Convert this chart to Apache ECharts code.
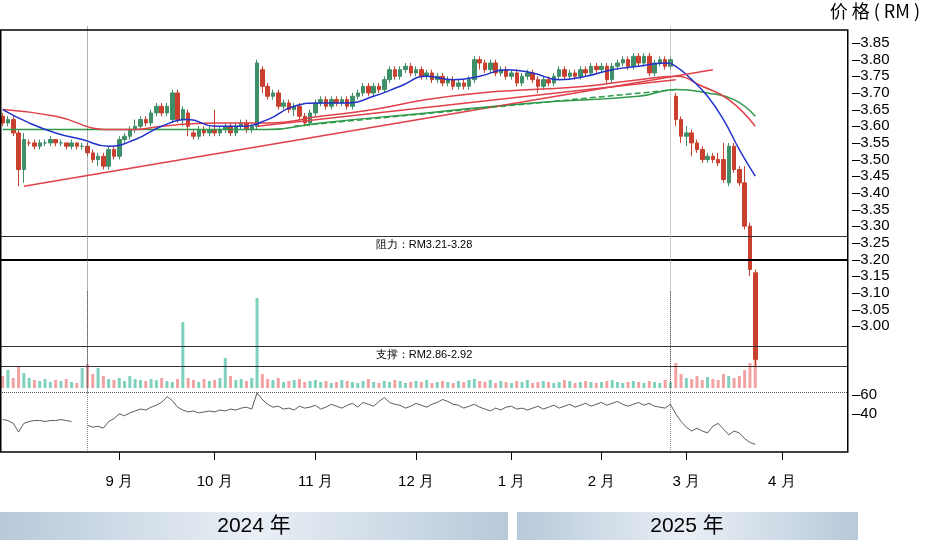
<!DOCTYPE html>
<html>
<head>
<meta charset="utf-8">
<script src="https://cdn.jsdelivr.net/npm/echarts@6/dist/echarts.min.js"></script>
<style>html,body{margin:0;padding:0;background:#fff}#main{width:926px;height:540px}</style>
</head>
<body>
<div id="main"></div>
<script>
// 日K线 [开, 收, 低, 高]
var candles = [
[3.63,3.61,3.60,3.64],[3.61,3.62,3.60,3.63],[3.62,3.58,3.57,3.63],[3.58,3.47,3.42,3.59],[3.47,3.56,3.43,3.58],
[3.55,3.55,3.54,3.56],[3.55,3.54,3.53,3.56],[3.54,3.55,3.53,3.56],[3.55,3.55,3.54,3.56],[3.55,3.56,3.54,3.57],
[3.56,3.55,3.54,3.56],[3.55,3.55,3.54,3.56],[3.55,3.54,3.53,3.55],[3.54,3.55,3.53,3.56],[3.55,3.54,3.53,3.55],
[3.54,3.54,3.53,3.55],[3.54,3.52,3.51,3.55],[3.52,3.50,3.49,3.53],[3.50,3.51,3.48,3.52],[3.51,3.48,3.47,3.52],
[3.48,3.53,3.47,3.54],[3.53,3.51,3.50,3.54],[3.51,3.56,3.50,3.57],[3.56,3.57,3.55,3.58],[3.57,3.59,3.56,3.60],
[3.59,3.60,3.58,3.62],[3.60,3.62,3.59,3.63],[3.62,3.61,3.60,3.63],[3.61,3.64,3.60,3.65],[3.64,3.66,3.63,3.67],
[3.66,3.64,3.63,3.67],[3.64,3.66,3.63,3.67],[3.62,3.70,3.61,3.71],[3.70,3.62,3.61,3.71],[3.62,3.65,3.60,3.66],
[3.64,3.60,3.57,3.65],[3.58,3.57,3.56,3.59],[3.57,3.59,3.56,3.60],[3.59,3.58,3.57,3.60],[3.58,3.59,3.57,3.60],
[3.59,3.58,3.57,3.65],[3.58,3.59,3.57,3.60],[3.59,3.60,3.58,3.61],[3.60,3.58,3.57,3.61],[3.58,3.60,3.57,3.61],
[3.60,3.61,3.59,3.62],[3.61,3.59,3.58,3.62],[3.59,3.60,3.58,3.61],[3.60,3.79,3.59,3.80],[3.77,3.72,3.70,3.78],
[3.72,3.69,3.68,3.73],[3.69,3.70,3.68,3.71],[3.70,3.66,3.65,3.71],[3.66,3.67,3.65,3.68],[3.67,3.65,3.64,3.68],
[3.65,3.66,3.63,3.67],[3.66,3.63,3.62,3.67],[3.63,3.61,3.60,3.64],[3.61,3.64,3.60,3.65],[3.64,3.67,3.63,3.68],
[3.67,3.68,3.66,3.69],[3.68,3.66,3.65,3.69],[3.66,3.68,3.65,3.69],[3.68,3.67,3.66,3.69],[3.67,3.68,3.66,3.69],
[3.68,3.66,3.65,3.69],[3.66,3.69,3.65,3.70],[3.69,3.70,3.68,3.71],[3.70,3.72,3.69,3.73],[3.72,3.70,3.69,3.73],
[3.70,3.72,3.69,3.73],[3.72,3.71,3.70,3.73],[3.71,3.74,3.70,3.75],[3.74,3.77,3.73,3.78],[3.77,3.75,3.74,3.78],
[3.75,3.77,3.74,3.78],[3.77,3.78,3.76,3.79],[3.78,3.76,3.75,3.79],[3.76,3.77,3.75,3.78],[3.77,3.75,3.74,3.78],
[3.75,3.76,3.74,3.77],[3.76,3.74,3.73,3.77],[3.74,3.75,3.73,3.76],[3.75,3.73,3.72,3.76],[3.73,3.74,3.72,3.75],
[3.74,3.72,3.71,3.75],[3.72,3.73,3.71,3.74],[3.73,3.72,3.71,3.74],[3.72,3.74,3.71,3.75],[3.74,3.80,3.73,3.81],
[3.80,3.79,3.77,3.81],[3.79,3.77,3.76,3.80],[3.77,3.79,3.76,3.80],[3.79,3.76,3.75,3.80],[3.76,3.77,3.75,3.78],
[3.77,3.75,3.74,3.78],[3.75,3.76,3.74,3.77],[3.76,3.73,3.72,3.77],[3.73,3.75,3.72,3.76],[3.75,3.76,3.74,3.77],
[3.76,3.74,3.73,3.77],[3.74,3.72,3.70,3.75],[3.72,3.74,3.71,3.75],[3.74,3.73,3.72,3.75],[3.73,3.75,3.72,3.76],
[3.75,3.77,3.74,3.78],[3.77,3.75,3.74,3.78],[3.75,3.76,3.74,3.77],[3.76,3.75,3.74,3.77],[3.75,3.77,3.74,3.78],
[3.77,3.76,3.75,3.78],[3.76,3.78,3.75,3.79],[3.78,3.77,3.76,3.79],[3.77,3.78,3.76,3.79],[3.78,3.74,3.73,3.79],
[3.74,3.78,3.73,3.79],[3.78,3.79,3.77,3.80],[3.79,3.80,3.78,3.81],[3.80,3.78,3.77,3.81],[3.78,3.81,3.77,3.82],
[3.81,3.79,3.78,3.82],[3.79,3.81,3.78,3.82],[3.81,3.76,3.75,3.82],[3.76,3.79,3.75,3.80],[3.79,3.80,3.78,3.81],
[3.80,3.78,3.77,3.81],[3.78,3.80,3.77,3.81],[3.69,3.62,3.60,3.70],[3.62,3.57,3.55,3.63],[3.57,3.58,3.54,3.60],
[3.58,3.55,3.51,3.59],[3.55,3.53,3.52,3.56],[3.53,3.50,3.49,3.54],[3.50,3.51,3.49,3.52],[3.51,3.50,3.49,3.52],
[3.50,3.49,3.48,3.52],[3.50,3.44,3.43,3.55],[3.43,3.54,3.42,3.55],[3.54,3.47,3.46,3.55],[3.47,3.43,3.42,3.48],
[3.43,3.30,3.29,3.48],[3.30,3.17,3.15,3.31],[3.16,2.90,2.88,3.17]
];
var volumes = [
12,18,10,22,15,10,8,7,9,6, 8,7,9,6,5,20,24,14,20,12, 9,8,10,7,12,9,8,7,9,8, 10,7,6,9,66,10,8,6,9,7,
8,10,30,12,8,9,7,10,90,14, 9,8,10,6,7,8,9,6,7,8, 6,7,5,6,8,7,6,5,7,9, 6,5,7,6,8,7,5,6,7,6,
8,5,6,7,6,5,7,6,8,9, 7,6,8,5,7,6,5,7,6,8, 5,6,7,6,5,6,8,7,5,6, 7,6,5,6,7,8,6,5,6,7,
6,5,7,6,5,8,6,25,14,10, 9,12,8,11,9,8,14,12,10,12, 18,25,30
];
var rsi = [
34,33,30,21,30,32,33,33,32,33, 33,34,33,32,null,null,28,26,27,25, 32,35,40,38,41,43,45,44,47,49,
52,58,54,47,44,42,43,41,42,43, 42,44,43,45,44,46,47,45,62,55, 50,47,48,45,46,44,48,46,47,49,
45,47,50,48,46,49,51,47,52,50, 48,53,57,52,50,49,46,48,51,49, 47,50,52,55,53,50,49,46,48,50,
47,45,43,46,44,47,48,45,46,44, 46,48,45,47,49,46,48,50,47,49, 51,48,50,52,49,51,53,50,48,50,
52,49,51,48,47,46,50,40,32,26, 22,25,22,20,27,30,24,18,22,20, 14,10,8
];
// 均线 [序号, 价格]
var maBlue = [[0,3.65],[5,3.61],[10,3.58],[15,3.56],[20,3.54],[25,3.56],[30,3.60],[35,3.62],[40,3.60],[45,3.60],[50,3.62],[55,3.66],[60,3.67],[65,3.67],[70,3.69],[75,3.72],[80,3.75],[85,3.74],[90,3.75],[95,3.77],[100,3.76],[105,3.74],[110,3.75],[115,3.77],[120,3.78],[125,3.79],[127,3.78],[130,3.74],[133,3.69],[136,3.62],[139,3.53],[142,3.45]];
var maRed = [[0,3.65],[10,3.63],[20,3.59],[25,3.59],[30,3.60],[40,3.61],[50,3.61],[60,3.63],[70,3.65],[80,3.68],[90,3.70],[100,3.71],[110,3.72],[120,3.74],[127,3.75],[132,3.72],[137,3.68],[142,3.60]];
var maGreen = [[0,3.59],[20,3.59],[40,3.59],[50,3.59],[60,3.61],[80,3.64],[100,3.67],[120,3.69],[127,3.71],[133,3.70],[138,3.68],[142,3.63]];
// 趋势线
var trendRed1 = [[4,3.42],[134,3.77]];
var trendRed2 = [[48,3.60],[127,3.74]];
var trendGreen = [[55,3.60],[127,3.71]];
// 阻力 / 支撑
var resist = [3.27, 3.20];
var support = [2.937, 2.875];
var dividers = [16, 126];
// 月份刻度
var monthIdx = [22,40,59,78,96,113,129,147];
var monthNames = ['9 月','10 月','11 月','12 月','1 月','2 月','3 月','4 月'];

var N = 160;
var cats = [];
for (var i = 0; i < N; i++) {
	var k = monthIdx.indexOf(i);
	cats.push(k >= 0 ? monthNames[k] : '');
}
function isMonth(i){ return monthIdx.indexOf(i) >= 0; }

var volData = volumes.map(function(v, i){
	var c = candles[i];
	return {value: v, itemStyle: {color: c[1] >= c[0] ? '#7fd0bd' : '#f2a2a2'}};
});
var vLines = dividers.map(function(d){ return {xAxis: d}; });
var FONT = 'Liberation Sans';

var myChart = echarts.init(document.getElementById('main'));
var option = {
	animation: false,
	textStyle: {fontFamily: FONT},
	grid: [
		{left: 0, right: 78, top: 26.35, height: 366.3},
		{left: 0, right: 78, top: 290, height: 98},
		{left: 0, right: 78, top: 390, height: 62}
	],
	xAxis: [
		{type: 'category', gridIndex: 0, data: cats, show: false},
		{type: 'category', gridIndex: 1, data: cats, show: false},
		{type: 'category', gridIndex: 2, data: cats,
			axisLine: {show: false},
			axisTick: {show: true, length: 8, alignWithLabel: true, interval: function(i){ return isMonth(i); }, lineStyle: {color: '#000'}},
			axisLabel: {interval: function(i){ return isMonth(i); }, color: '#000', fontSize: 15, margin: 22, fontFamily: FONT}
		}
	],
	yAxis: [
		{type: 'value', gridIndex: 0, position: 'right', min: 2.80, max: 3.90, interval: 0.05,
			splitLine: {show: false}, axisLine: {show: false}, axisTick: {show: false},
			axisLabel: {margin: 4, color: '#000', fontSize: 15, fontFamily: FONT, formatter: function(v){
				if (v < 2.999 || v > 3.851) return '';
				return '\u2013' + v.toFixed(2);
			}}
		},
		{type: 'value', gridIndex: 1, min: 0, max: 98, show: false},
		{type: 'value', gridIndex: 2, position: 'right', min: 0, max: 65, interval: 20,
			splitLine: {show: false}, axisLine: {show: false}, axisTick: {show: false},
			axisLabel: {margin: 4, color: '#000', fontSize: 15, fontFamily: FONT, formatter: function(v){
				return (v == 40 || v == 60) ? '\u2013' + v : '';
			}}
		}
	],
	series: [
		{
			type: 'candlestick', xAxisIndex: 0, yAxisIndex: 0, data: candles, barWidth: 4,
			itemStyle: {color: '#3f8f68', color0: '#c9402f', borderColor: '#3f8f68', borderColor0: '#c9402f', borderWidth: 1},
			markLine: {
				symbol: 'none', silent: true, animation: false,
				data: [
					{yAxis: resist[0], lineStyle: {color: '#333', width: 1, type: 'solid'},
						label: {show: true, position: 'insideMiddleBottom', formatter: '阻力：RM3.21-3.28', color: '#000', fontSize: 11, distance: [0, 3]}},
					{yAxis: resist[1], lineStyle: {color: '#000', width: 2, type: 'solid'}, label: {show: false}},
					{yAxis: support[0], lineStyle: {color: '#333', width: 1, type: 'solid'},
						label: {show: true, position: 'insideMiddleBottom', formatter: '支撑：RM2.86-2.92', color: '#000', fontSize: 11, distance: [0, 3]}},
					{yAxis: support[1], lineStyle: {color: '#333', width: 1, type: 'solid'}, label: {show: false}},
					{xAxis: dividers[0], lineStyle: {color: '#666', width: 1, type: 'dotted'}, label: {show: false}},
					{xAxis: dividers[1], lineStyle: {color: '#999', width: 1, type: 'dotted'}, label: {show: false}},
					[{coord: trendRed1[0]}, {coord: trendRed1[1], lineStyle: {color: '#e0404a', width: 1.5, type: 'solid'}, label: {show: false}}],
					[{coord: trendRed2[0]}, {coord: trendRed2[1], lineStyle: {color: '#e0404a', width: 1.5, type: 'solid'}, label: {show: false}}],
					[{coord: trendGreen[0]}, {coord: trendGreen[1], lineStyle: {color: '#2f9a4a', width: 1.5, type: 'dashed'}, label: {show: false}}]
				]
			}
		},
		{type: 'line', xAxisIndex: 0, yAxisIndex: 0, data: maGreen, smooth: true, symbol: 'none', lineStyle: {color: '#2f9a4a', width: 1.5}},
		{type: 'line', xAxisIndex: 0, yAxisIndex: 0, data: maRed, smooth: true, symbol: 'none', lineStyle: {color: '#e0404a', width: 1.5}},
		{type: 'line', xAxisIndex: 0, yAxisIndex: 0, data: maBlue, smooth: true, symbol: 'none', lineStyle: {color: '#2233cc', width: 1.5}},
		{
			type: 'bar', xAxisIndex: 1, yAxisIndex: 1, data: volData, barWidth: 3,
			markLine: {symbol: 'none', silent: true, label: {show: false}, lineStyle: {color: '#666', type: 'dotted'}, data: vLines}
		},
		{
			type: 'line', xAxisIndex: 2, yAxisIndex: 2, data: rsi, symbol: 'none', connectNulls: false,
			lineStyle: {color: '#333', width: 0.8},
			markLine: {symbol: 'none', silent: true, label: {show: false},
				data: [{yAxis: 62.5, lineStyle: {color: '#555', type: 'dotted', width: 1}}].concat(
					dividers.map(function(d){ return {xAxis: d, lineStyle: {color: '#888', type: 'dotted'}}; }))
			}
		}
	],
	graphic: [
		{type: 'rect', shape: {x: 0.75, y: 30, width: 847, height: 422}, style: {fill: 'none', stroke: '#000', lineWidth: 1.5}, silent: true, z: 100},
		{type: 'text', right: 6, top: 2, style: {text: '价 格 ( RM )', font: '18px "Noto Sans CJK SC", sans-serif', fill: '#000'}},
		{type: 'rect', shape: {x: 0, y: 512, width: 508, height: 28},
			style: {fill: new echarts.graphic.LinearGradient(0, 0, 1, 0, [{offset: 0, color: '#b8c9da'}, {offset: 0.5, color: '#e9eff5'}, {offset: 1, color: '#b8c9da'}])}},
		{type: 'rect', shape: {x: 517, y: 512, width: 341, height: 28},
			style: {fill: new echarts.graphic.LinearGradient(0, 0, 1, 0, [{offset: 0, color: '#b8c9da'}, {offset: 0.5, color: '#e9eff5'}, {offset: 1, color: '#b8c9da'}])}},
		{type: 'text', x: 254, y: 526, style: {text: '2024 年', font: '21px "Liberation Sans", "Noto Sans CJK SC"', fill: '#000', align: 'center', verticalAlign: 'middle'}},
		{type: 'text', x: 687, y: 526, style: {text: '2025 年', font: '21px "Liberation Sans", "Noto Sans CJK SC"', fill: '#000', align: 'center', verticalAlign: 'middle'}}
	]
};
// 显示图表
myChart.setOption(option);
</script>
</body>
</html>
